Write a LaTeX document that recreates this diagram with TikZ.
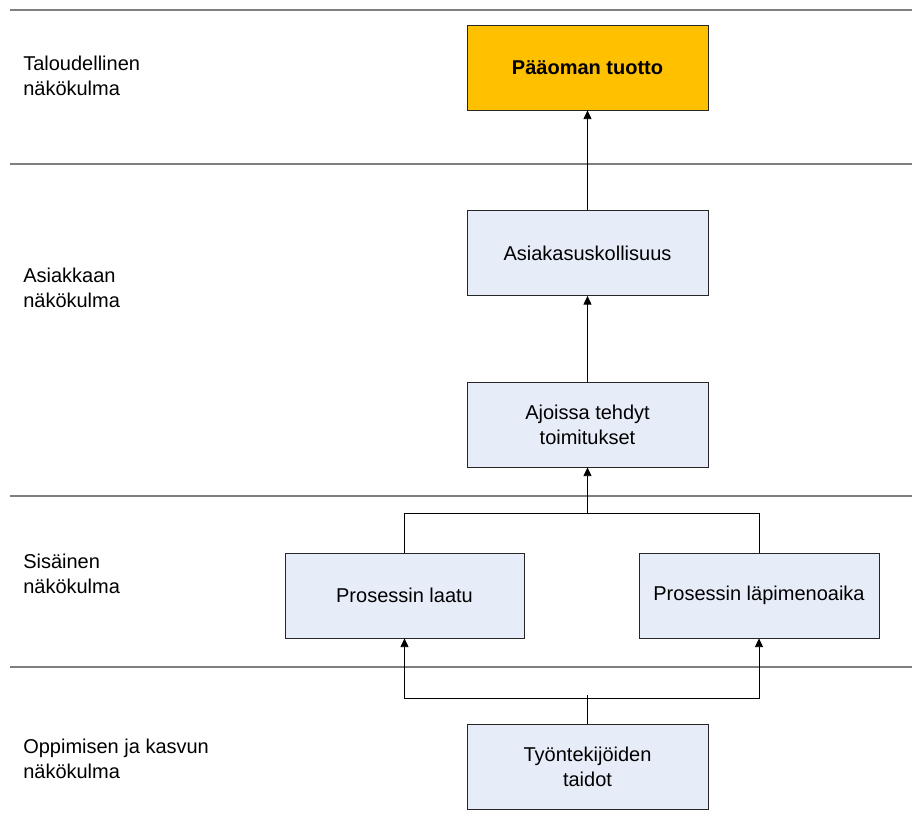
\documentclass[tikz,border=0pt]{standalone}
\usepackage{fontspec}
\setmainfont{Liberation Sans}
\usetikzlibrary{arrows.meta}
\definecolor{goldbox}{HTML}{FFC000}
\definecolor{palebox}{HTML}{E7EDF8}
\definecolor{bandline}{HTML}{7F7F7F}
\begin{document}
\begin{tikzpicture}[x=0.75pt,y=-0.75pt,
  every node/.style={font=\fontsize{15pt}{18.75pt}\selectfont, inner sep=0pt},
  goal/.style={draw=black!85, line width=0.6pt, minimum width=180.75pt, minimum height=63.75pt, align=center},
  palegoal/.style={goal, fill=palebox},
  perspective/.style={anchor=west, align=left},
  band/.style={draw=bandline, line width=0.9pt},
  link/.style={draw=black, line width=0.6pt},
  linkarrow/.style={link, -{Triangle[length=6.5pt,width=6pt]}}]
\useasboundingbox (0,0) rectangle (912,830);

% perspective separators
\foreach \name/\yy in {s0/10, s1/164, s2/496, s3/667} {
  \coordinate (\name L) at (10,\yy);
  \coordinate (\name R) at (912,\yy);
  \draw[band] (\name L) -- (\name R);
}

% perspective titles
\node[perspective] (pfin) at (23,76) {Taloudellinen\\näkökulma};
\node[perspective] (pcus) at (23,288) {Asiakkaan\\näkökulma};
\node[perspective] (pint) at (23,574) {Sisäinen\\näkökulma};
\node[perspective] (plrn) at (23,759) {Oppimisen ja kasvun\\näkökulma};

% goals
\node[goal, fill=goldbox] (roi) at (587.5,67.5) {\bfseries Pääoman tuotto};
\node[palegoal] (loyal) at (587.5,253) {Asiakasuskollisuus};
\node[palegoal] (ontime) at (587.5,424.5) {Ajoissa tehdyt\\toimitukset};
\node[palegoal, minimum width=179.25pt] (quality) at (404.5,595.5) {Prosessin laatu};
\node[palegoal, minimum width=180pt] (cycle) at (759,595.5) {Prosessin läpimenoaika};
\node[palegoal] (skills) at (587.5,767) {Työntekijöiden\\taidot};

% cause-and-effect links
\coordinate (jup) at (587.5,513);
\coordinate (jdown) at (587.5,698);
\draw[linkarrow] (loyal.north) -- (roi.south);
\draw[linkarrow] (ontime.north) -- (loyal.south);
\draw[link] (quality.north) |- (jup);
\draw[link] (cycle.north) |- (jup);
\draw[linkarrow] (jup) -- (ontime.south);
\draw[link] (skills.north) -- ([yshift=2.25pt]jdown);
\draw[linkarrow] (jdown) -| (quality.south);
\draw[linkarrow] (jdown) -| (cycle.south);
\end{tikzpicture}
\end{document}
